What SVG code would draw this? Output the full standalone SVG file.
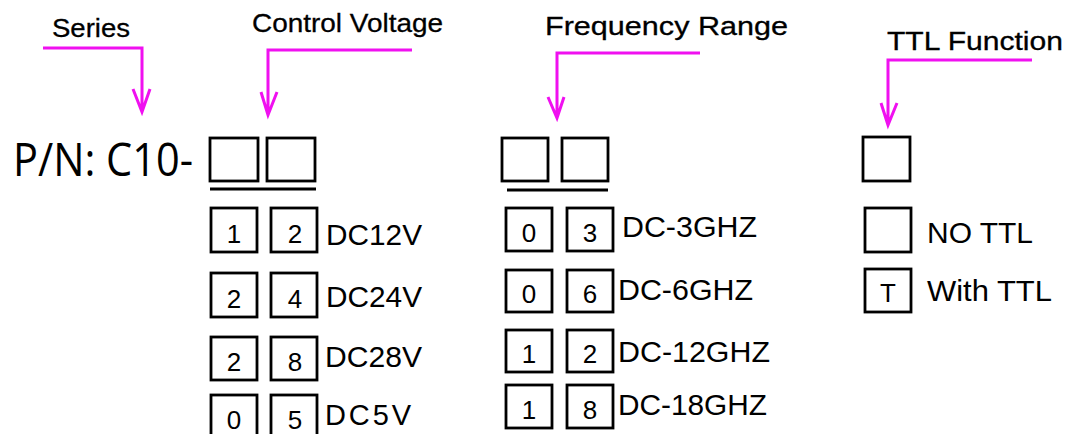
<svg xmlns="http://www.w3.org/2000/svg" width="1070" height="434" viewBox="0 0 1070 434">
<style>
.bg{fill:#ffffff}
.box{fill:none;stroke:#000;stroke-width:2.8}
.ul{stroke:#000;stroke-width:2.8}
.lead{fill:none;stroke:#f010f0;stroke-width:3;stroke-linecap:butt;stroke-linejoin:miter}
.head{font-family:"Liberation Sans",Arial,sans-serif;font-size:26px;fill:#000;stroke:#000;stroke-width:0.3}
.opt{font-family:"Liberation Sans",Arial,sans-serif;font-size:29px;fill:#000}
.dig{font-family:"Liberation Sans",Arial,sans-serif;font-size:26px;fill:#000;text-anchor:middle}
.pn{font-family:"Open Sans","Liberation Sans",Arial,sans-serif;font-size:45px;fill:#000}
</style>
<rect class="bg" x="0" y="0" width="1070" height="434"/>

<g id="connectors">
  <path class="lead" d="M43,48 H142 V112 M133,89 L142,112 L150,89"/>
  <path class="lead" d="M412,50 H268 V115 M261,92 L268,115 L277,92"/>
  <path class="lead" d="M700,53 H557 V118 M548,97 L557,118 L564,97"/>
  <path class="lead" d="M1032,60 H888 V125 M881,103 L888,125 L897,103"/>
</g>

<g id="label-series"><text class="head" x="52" y="37" textLength="78" lengthAdjust="spacingAndGlyphs">Series</text></g>
<g id="label-control-voltage"><text class="head" x="252" y="32" textLength="191" lengthAdjust="spacingAndGlyphs">Control Voltage</text></g>
<g id="label-frequency-range"><text class="head" x="545" y="35" textLength="243" lengthAdjust="spacingAndGlyphs">Frequency Range</text></g>
<g id="label-ttl-function"><text class="head" x="887" y="50" textLength="176" lengthAdjust="spacingAndGlyphs">TTL Function</text></g>

<g id="part-number">
  <text class="pn" x="13" y="176" textLength="180" lengthAdjust="spacingAndGlyphs">P/N: C10-</text>
</g>

<g id="slot-control-voltage">
  <rect class="box" x="210" y="138" width="48" height="43"/>
  <rect class="box" x="267" y="138" width="48" height="43"/>
  <line class="ul" x1="210" y1="189" x2="316" y2="189"/>
</g>
<g id="slot-frequency">
  <rect class="box" x="502" y="138" width="46" height="43"/>
  <rect class="box" x="562" y="138" width="46" height="43"/>
  <line class="ul" x1="507" y1="190" x2="608" y2="190"/>
</g>
<g id="slot-ttl">
  <rect class="box" x="863" y="137" width="47" height="44"/>
</g>

<g id="cv-12">
  <rect class="box" x="211" y="208" width="46" height="44"/><text class="dig" x="234" y="243">1</text>
  <rect class="box" x="271" y="208" width="46" height="44"/><text class="dig" x="295" y="243">2</text>
  <text class="opt" x="326" y="245" textLength="96" lengthAdjust="spacingAndGlyphs">DC12V</text>
</g>
<g id="cv-24">
  <rect class="box" x="211" y="273" width="46" height="44"/><text class="dig" x="234" y="308">2</text>
  <rect class="box" x="271" y="273" width="46" height="44"/><text class="dig" x="295" y="308">4</text>
  <text class="opt" x="326" y="307" textLength="96" lengthAdjust="spacingAndGlyphs">DC24V</text>
</g>
<g id="cv-28">
  <rect class="box" x="211" y="337" width="46" height="43"/><text class="dig" x="234" y="371">2</text>
  <rect class="box" x="271" y="337" width="46" height="43"/><text class="dig" x="295" y="371">8</text>
  <text class="opt" x="325" y="367" textLength="97" lengthAdjust="spacingAndGlyphs">DC28V</text>
</g>
<g id="cv-05">
  <rect class="box" x="211" y="395" width="46" height="44"/><text class="dig" x="234" y="429">0</text>
  <rect class="box" x="271" y="395" width="46" height="44"/><text class="dig" x="295" y="429">5</text>
  <text class="opt" x="325" y="425" textLength="86" lengthAdjust="spacing">DC5V</text>
</g>

<g id="fr-03">
  <rect class="box" x="506" y="208" width="46" height="43"/><text class="dig" x="529" y="242">0</text>
  <rect class="box" x="567" y="208" width="46" height="43"/><text class="dig" x="590" y="242">3</text>
  <text class="opt" x="622" y="237" textLength="135" lengthAdjust="spacingAndGlyphs">DC-3GHZ</text>
</g>
<g id="fr-06">
  <rect class="box" x="506" y="270" width="46" height="42"/><text class="dig" x="529" y="303">0</text>
  <rect class="box" x="567" y="270" width="46" height="42"/><text class="dig" x="590" y="303">6</text>
  <text class="opt" x="618" y="300" textLength="135" lengthAdjust="spacingAndGlyphs">DC-6GHZ</text>
</g>
<g id="fr-12">
  <rect class="box" x="506" y="330" width="46" height="42"/><text class="dig" x="529" y="363">1</text>
  <rect class="box" x="567" y="330" width="46" height="42"/><text class="dig" x="590" y="363">2</text>
  <text class="opt" x="618" y="362" textLength="152" lengthAdjust="spacingAndGlyphs">DC-12GHZ</text>
</g>
<g id="fr-18">
  <rect class="box" x="506" y="385" width="46" height="43"/><text class="dig" x="529" y="419">1</text>
  <rect class="box" x="567" y="385" width="46" height="43"/><text class="dig" x="590" y="419">8</text>
  <text class="opt" x="618" y="415" textLength="149" lengthAdjust="spacingAndGlyphs">DC-18GHZ</text>
</g>

<g id="ttl-none">
  <rect class="box" x="865" y="208" width="46" height="44"/>
  <text class="opt" x="927" y="243" textLength="106" lengthAdjust="spacingAndGlyphs">NO TTL</text>
</g>
<g id="ttl-with">
  <rect class="box" x="865" y="269" width="46" height="43"/><text class="dig" x="888" y="302">T</text>
  <text class="opt" x="927" y="301" textLength="125" lengthAdjust="spacingAndGlyphs">With TTL</text>
</g>
</svg>
